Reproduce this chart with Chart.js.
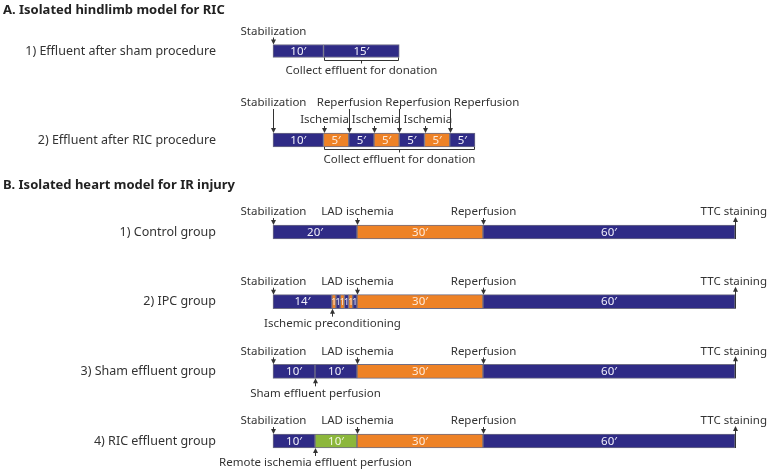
<!DOCTYPE html>
<html>
<head>
<meta charset="utf-8">
<script src="https://cdn.jsdelivr.net/npm/chart.js@4"></script>
<style>
  body { margin: 0; background: #fff; }
  #wrap { position: relative; width: 769px; height: 472px; }
  canvas { position: absolute; left: 0; }
</style>
</head>
<body>
<div id="wrap">
  <canvas id="hindlimb" width="769" height="175" style="top:0"></canvas>
  <canvas id="heart" width="769" height="297" style="top:175px"></canvas>
</div>
<script>
// A. isolated hindlimb (minutes per segment, in order)
var hindlimbGroups = ['1) Effluent after sham procedure', '2) Effluent after RIC procedure'];
var shamMinutes = [10, 15];
var shamPhases = ['perfusion', 'perfusion'];
var ricMinutes = [10, 5, 5, 5, 5, 5, 5];
var ricPhases = ['perfusion', 'ischemia', 'perfusion', 'ischemia', 'perfusion', 'ischemia', 'perfusion'];
var collectFrom = 10;

// B. isolated heart
var heartGroups = ['1) Control group', '2) IPC group', '3) Sham effluent group', '4) RIC effluent group'];
var controlMinutes = [20, 30, 60];
var controlPhases = ['perfusion', 'ischemia', 'perfusion'];
var ipcMinutes = [14, 1, 1, 1, 1, 1, 1, 30, 60];
var ipcPhases = ['perfusion', 'ischemia', 'perfusion', 'ischemia', 'perfusion', 'ischemia', 'perfusion', 'ischemia', 'perfusion'];
var shamEffMinutes = [10, 10, 30, 60];
var shamEffPhases = ['perfusion', 'perfusion', 'ischemia', 'perfusion'];
var ricEffMinutes = [10, 10, 30, 60];
var ricEffPhases = ['perfusion', 'effluent', 'ischemia', 'perfusion'];

// time points marked with arrows
var heartEvents = [[0, 'Stabilization'], [20, 'LAD ischemia'], [50, 'Reperfusion'], [110, 'TTC staining']];
var heartBelow = [null, [14, 'Ischemic preconditioning'], [10, 'Sham effluent perfusion'], [10, 'Remote ischemia effluent perfusion']];
var ricEvents = [[0, 'Stabilization'], [10, 'Ischemia'], [15, 'Reperfusion'], [20, 'Ischemia'], [25, 'Reperfusion'], [30, 'Ischemia'], [35, 'Reperfusion']];

var FONT = '"Noto Sans", sans-serif';
var phaseColors = { perfusion: '#2f2b86', ischemia: '#ee8226', effluent: '#8cb73b' };
var phaseText = { perfusion: '#f0effa', ischemia: '#feeadb', effluent: '#f3f9e6' };
var INK = '#333333';

function buildDataset(group, minutes, phases, thick) {
  var t = 0;
  var data = minutes.map(function (m) {
    var seg = { x: [t, t + m], y: group };
    t += m;
    return seg;
  });
  return {
    label: group,
    data: data,
    phases: phases,
    backgroundColor: phases.map(function (p) { return phaseColors[p]; }),
    borderColor: '#6f6e86',
    borderWidth: 1,
    borderSkipped: false,
    grouped: false,
    barThickness: thick,
    clip: false
  };
}

function arrow(ctx, x, yFrom, yTo) {
  var dir = yTo > yFrom ? 1 : -1;
  ctx.beginPath();
  ctx.moveTo(x, yFrom);
  ctx.lineTo(x, yTo - dir * 3);
  ctx.stroke();
  ctx.beginPath();
  ctx.moveTo(x, yTo);
  ctx.lineTo(x - 2.5, yTo - dir * 5);
  ctx.lineTo(x + 2.5, yTo - dir * 5);
  ctx.closePath();
  ctx.fill();
}

// place labels of one tier centred on their arrows, pushing right on overlap
function placeLabels(ctx, items, y, width) {
  var prevRight = -Infinity;
  items.sort(function (a, b) { return a.x - b.x; }).forEach(function (it) {
    var w = ctx.measureText(it.text).width;
    var left = it.x - w / 2;
    if (left < prevRight + 3) left = prevRight + 3;
    if (left + w > width - 2) left = width - 2 - w;
    ctx.fillText(it.text, left, y);
    prevRight = left + w;
  });
}

// marks per row: above / high tiers, end arrow, below arrow, bracket under the bar
function protocolPlugin(marks) {
  return {
    id: 'protocol',
    afterDatasetsDraw: function (chart) {
      var ctx = chart.ctx;
      var xs = chart.scales.x;
      ctx.save();
      ctx.textBaseline = 'middle';

      // durations written inside the segments
      chart.data.datasets.forEach(function (ds, i) {
        chart.getDatasetMeta(i).data.forEach(function (bar, j) {
          var seg = ds.data[j].x;
          var m = seg[1] - seg[0];
          var w = Math.abs(bar.x - bar.base);
          ctx.font = (w < 10 ? '9px ' : '11.5px ') + FONT;
          ctx.fillStyle = phaseText[ds.phases[j]];
          ctx.textAlign = 'center';
          ctx.fillText(w < 10 ? String(m) : m + '\u2032', (bar.x + bar.base) / 2, bar.y + 0.5);
        });
      });

      ctx.strokeStyle = INK;
      ctx.fillStyle = INK;
      ctx.lineWidth = 1;
      ctx.font = '11.5px ' + FONT;
      ctx.textAlign = 'left';

      marks.forEach(function (mk, i) {
        var meta = chart.getDatasetMeta(i);
        var first = meta.data[0];
        var last = meta.data[meta.data.length - 1];
        var top = first.y - first.height / 2;
        var bottom = first.y + first.height / 2;

        if (mk.above) {
          var low = mk.above.map(function (e) { return { x: Math.round(xs.getPixelForValue(e[0])) + 0.5, text: e[1] }; });
          low.forEach(function (it) { arrow(ctx, it.x, top - 7, top); });
          placeLabels(ctx, low, top - 13, chart.width);
        }
        if (mk.high) {
          var hi = mk.high.map(function (e) { return { x: Math.round(xs.getPixelForValue(e[0])) + 0.5, text: e[1] }; });
          hi.forEach(function (it) { arrow(ctx, it.x, top - 24, top); });
          placeLabels(ctx, hi, top - 30, chart.width);
        }
        if (mk.end) {
          var ex = Math.round(last.x) + 0.5;
          arrow(ctx, ex, bottom, top - 8);
          placeLabels(ctx, [{ x: ex, text: mk.end }], top - 13, chart.width);
        }
        if (mk.below) {
          var bx = Math.round(xs.getPixelForValue(mk.below[0])) + 0.5;
          arrow(ctx, bx, bottom + 8, bottom);
          placeLabels(ctx, [{ x: bx, text: mk.below[1] }], bottom + 15, chart.width);
        }
        if (mk.bracket) {
          var x0 = Math.round(xs.getPixelForValue(mk.bracket[0])) + 0.5;
          var x1 = Math.round(last.x) - 0.5;
          var yb = Math.round(bottom) + 2.5;
          ctx.beginPath();
          ctx.moveTo(x0, bottom);
          ctx.lineTo(x0, yb);
          ctx.lineTo(x1, yb);
          ctx.lineTo(x1, bottom);
          ctx.moveTo((x0 + x1) / 2, yb);
          ctx.lineTo((x0 + x1) / 2, yb + 3);
          ctx.stroke();
          placeLabels(ctx, [{ x: (x0 + x1) / 2, text: mk.bracket[1] }], bottom + 13, chart.width);
        }
      });
      ctx.restore();
    }
  };
}

function makeOptions(title, xMax, padRight, padBottom, titleGap) {
  return {
    indexAxis: 'y',
    responsive: false,
    animation: false,
    events: [],
    layout: { padding: { left: 3, right: padRight, top: 0, bottom: padBottom } },
    scales: {
      x: { type: 'linear', min: 0, max: xMax, display: false },
      y: {
        type: 'category',
        offset: false,
        // tick marks are hidden; their length only keeps the group names clear of the bars
        grid: { display: false, drawTicks: true, tickLength: 57 },
        border: { display: false },
        ticks: { padding: 0, color: INK, font: { family: FONT, size: 12.5 } },
        afterFit: function (s) { s.width = 270; }
      }
    },
    plugins: {
      legend: { display: false },
      tooltip: { enabled: false },
      title: {
        display: true,
        text: title,
        align: 'start',
        color: '#222222',
        font: { family: FONT, size: 13, weight: 'bold', lineHeight: 1.2 },
        padding: { top: 2, bottom: titleGap }
      }
    }
  };
}

new Chart(document.getElementById('hindlimb'), {
  type: 'bar',
  data: {
    labels: hindlimbGroups,
    datasets: [
      buildDataset(hindlimbGroups[0], shamMinutes, shamPhases, 13),
      buildDataset(hindlimbGroups[1], ricMinutes, ricPhases, 14)
    ]
  },
  options: makeOptions('A. Isolated hindlimb model for RIC', 40, 294, 35, 33.4),
  plugins: [protocolPlugin([
    { above: [ricEvents[0]], bracket: [collectFrom, 'Collect effluent for donation'] },
    {
      high: ricEvents.filter(function (e) { return e[1] !== 'Ischemia'; }),
      above: ricEvents.filter(function (e) { return e[1] === 'Ischemia'; }),
      bracket: [collectFrom, 'Collect effluent for donation']
    }
  ])]
});

var heartRows = [
  [controlMinutes, controlPhases],
  [ipcMinutes, ipcPhases],
  [shamEffMinutes, shamEffPhases],
  [ricEffMinutes, ricEffPhases]
];

new Chart(document.getElementById('heart'), {
  type: 'bar',
  data: {
    labels: heartGroups,
    datasets: heartRows.map(function (r, i) { return buildDataset(heartGroups[i], r[0], r[1], 14); })
  },
  options: makeOptions('B. Isolated heart model for IR injury', 110, 34, 31, 39.4),
  plugins: [protocolPlugin(heartGroups.map(function (g, i) {
    return {
      above: heartEvents.slice(0, 3),
      end: heartEvents[3][1],
      below: heartBelow[i]
    };
  }))]
});
</script>
</body>
</html>
